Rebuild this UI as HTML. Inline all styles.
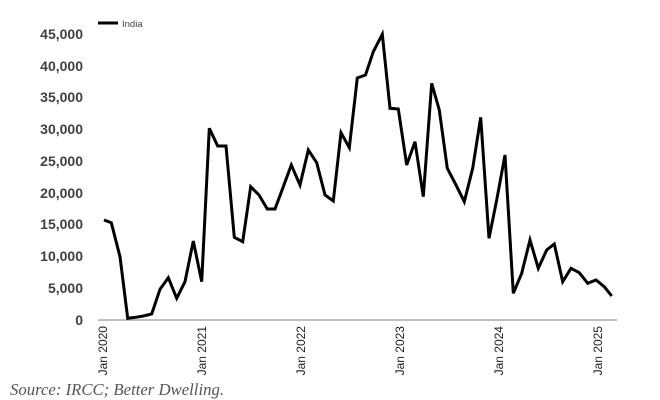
<!DOCTYPE html>
<html><head><meta charset="utf-8"><style>
html,body{margin:0;padding:0;background:#fff;}
svg{display:block;}
</style></head><body>
<svg width="660" height="400" xmlns="http://www.w3.org/2000/svg">
<g font-family="Liberation Sans, sans-serif" font-size="14" font-weight="bold" fill="#404040" text-anchor="end">
<text x="83" y="39">45,000</text>
<text x="83" y="71">40,000</text>
<text x="83" y="102">35,000</text>
<text x="83" y="134">30,000</text>
<text x="83" y="166">25,000</text>
<text x="83" y="198">20,000</text>
<text x="83" y="229">15,000</text>
<text x="83" y="261">10,000</text>
<text x="83" y="293">5,000</text>
<text x="83" y="325">0</text>
</g>
<line x1="98" y1="320" x2="617" y2="320" stroke="#aaa" stroke-width="1.5"/>
<line x1="98" y1="23" x2="118" y2="23" stroke="#000" stroke-width="3"/>
<text x="122" y="27" font-family="Liberation Sans, sans-serif" font-size="9.5" fill="#444">India</text>
<g font-family="Liberation Sans, sans-serif" font-size="12" fill="#222" text-anchor="end">
<text transform="translate(107,326) rotate(-90)">Jan 2020</text>
<text transform="translate(206,326) rotate(-90)">Jan 2021</text>
<text transform="translate(305,326) rotate(-90)">Jan 2022</text>
<text transform="translate(404,326) rotate(-90)">Jan 2023</text>
<text transform="translate(503,326) rotate(-90)">Jan 2024</text>
<text transform="translate(602,326) rotate(-90)">Jan 2025</text>
</g>
<polyline fill="none" stroke="#000" stroke-width="3" stroke-linejoin="miter" points="104,220 111.3,222.7 120,256.7 127.7,318.3 135.7,317.3 143.3,316 151.7,314 160,289.3 168.3,277.7 176.7,298.3 185,281.7 193.3,241 201.7,281.7 209.3,128.3 217.7,146 226,146 234.3,237.3 242.7,241.7 250.7,186.7 259,195 267.3,209 275,209 283.3,186.7 291.3,165 300,185 308.3,150 316.7,162.7 325,195 333.3,201 341,132.7 349.3,147.7 357.3,78 365.5,75 373.3,51.7 382.3,34.3 390,108.3 398.3,109 406.7,165 415,141.7 423.3,196.7 431.7,83.3 439.3,110 447.3,168.3 456,185 464.3,201.7 472.7,168.3 480.7,117.3 489,238.3 496.7,200 505,155 513.3,293.3 521.7,273.3 530,240 538.3,268.3 546.7,250 554.3,244 562.7,281.7 571,268.3 579.3,272.7 587.7,283.3 596,280 604.3,286.7 611.7,296"/>
<text x="10" y="395" font-family="Liberation Serif, serif" font-style="italic" font-size="16.5" fill="#555" textLength="214" lengthAdjust="spacingAndGlyphs">Source: IRCC; Better Dwelling.</text>
</svg>
</body></html>
